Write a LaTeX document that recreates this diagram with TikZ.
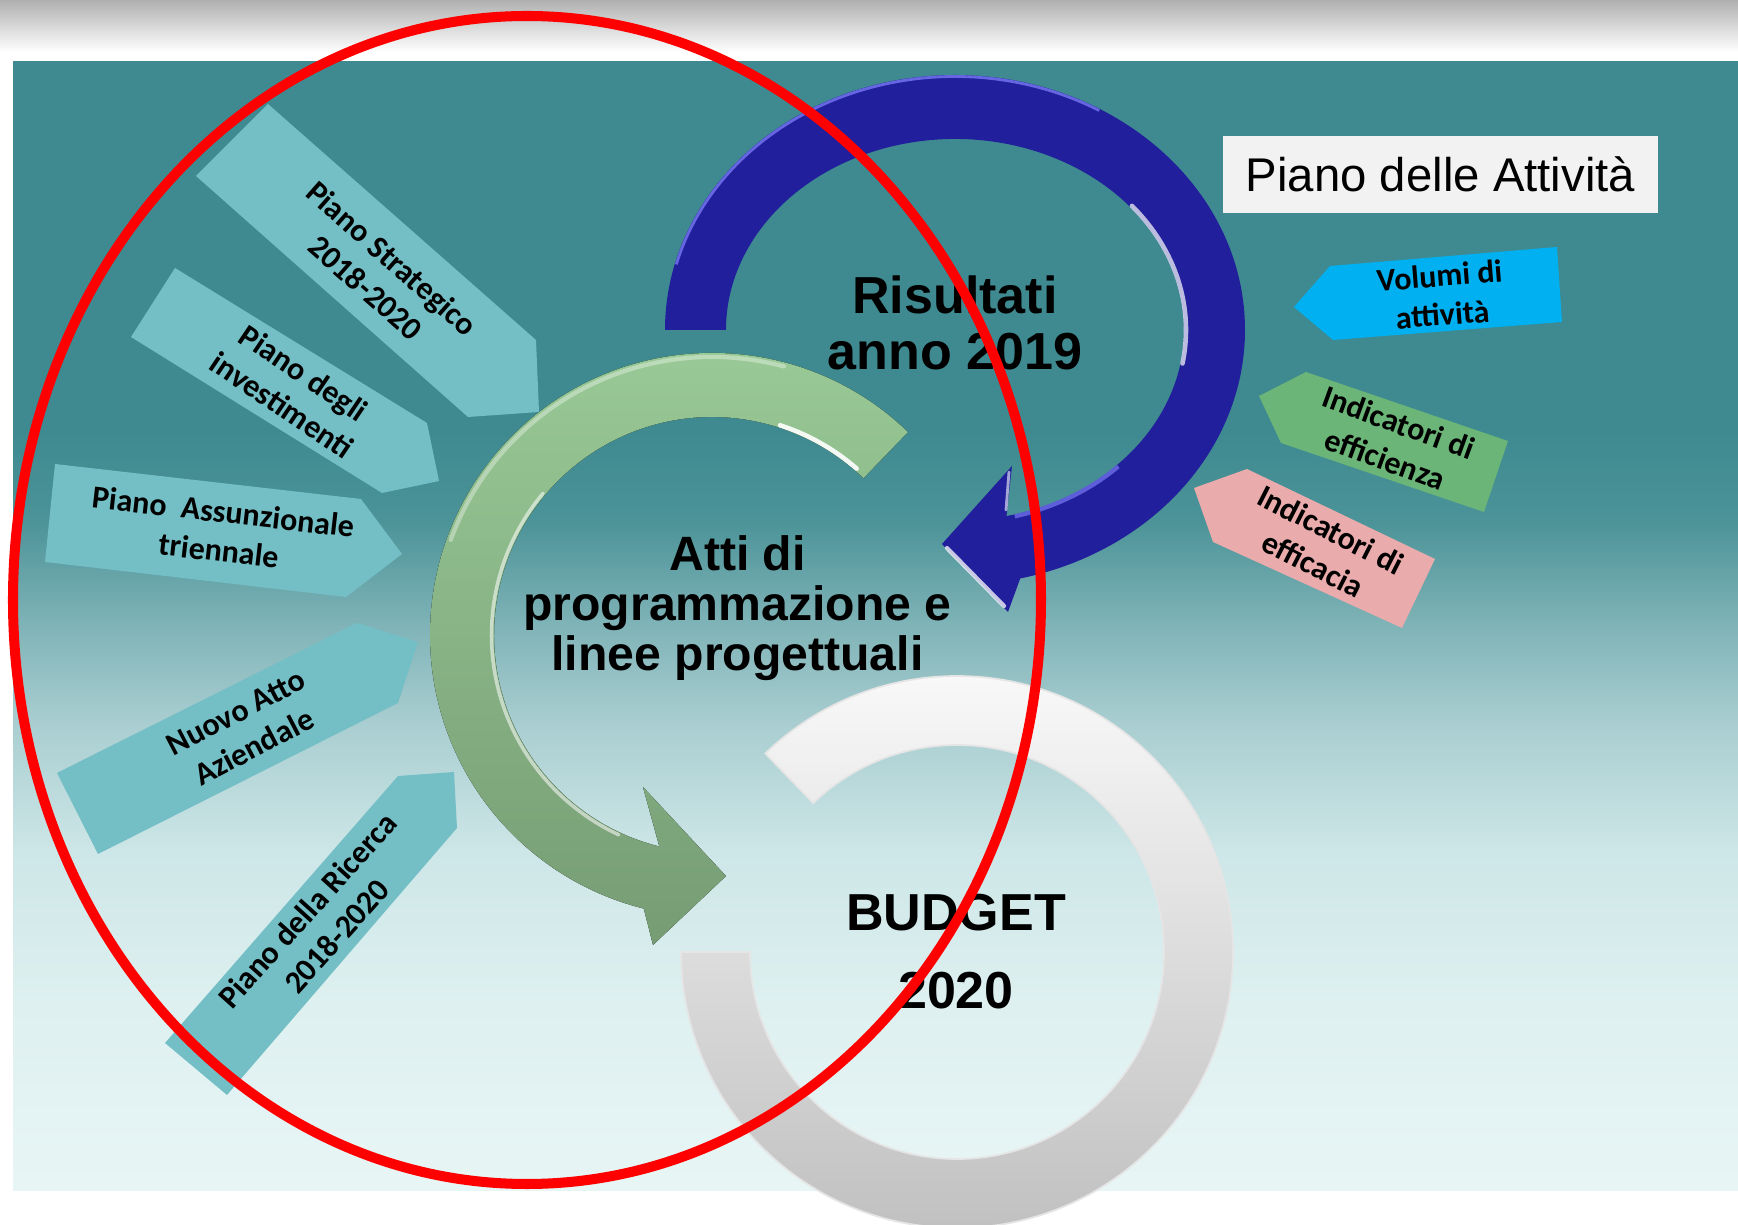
\documentclass[tikz,border=0pt]{standalone}
\usepackage{fontspec}
\setmainfont{Liberation Sans}
\newfontfamily\calib{Carlito}
\definecolor{tealA}{RGB}{62,138,144}
\definecolor{tealB}{RGB}{75,147,152}
\definecolor{tealC}{RGB}{125,178,182}
\definecolor{tealD}{RGB}{168,205,208}
\definecolor{tealE}{RGB}{205,230,231}
\definecolor{tealF}{RGB}{222,240,240}
\definecolor{tealG}{RGB}{232,245,245}
\definecolor{lcyan}{RGB}{116,191,197}
\definecolor{volc}{RGB}{0,176,240}
\definecolor{effc}{RGB}{106,181,119}
\definecolor{efcc}{RGB}{233,171,171}
\definecolor{blueR}{RGB}{33,31,155}
\definecolor{blueL}{RGB}{120,120,245}
\definecolor{greenT}{RGB}{154,203,151}
\definecolor{greenB}{RGB}{118,156,116}
\definecolor{ringT}{RGB}{251,251,251}
\definecolor{ringB}{RGB}{190,190,190}
\definecolor{boxg}{RGB}{242,242,242}
\definecolor{topg}{RGB}{176,176,176}
\tikzset{
  sidearrow/.style={fill=lcyan},
  lbl/.style={font=\calib\bfseries\fontsize{9.1}{11.1}\selectfont, align=center, inner sep=0pt, text=black},
  bigtxt/.style={font=\bfseries\fontsize{14.8}{15.8}\selectfont, align=center, inner sep=0pt, text=black},
  glint/.style={draw=white, line cap=round},
}
\begin{document}
\begin{tikzpicture}[x=0.01cm, y=-0.01cm]
\useasboundingbox (0,0) rectangle (1738,1225);
% background
\fill[white] (0,0) rectangle (1738,1225);
\fill[top color=topg, bottom color=white] (0,0) rectangle (1738,52);
\fill[tealA] (13,61) rectangle (1738,431);
\fill[top color=tealA, bottom color=tealB] (13,430) rectangle (1738,521);
\fill[top color=tealB, bottom color=tealC] (13,520) rectangle (1738,621);
\fill[top color=tealC, bottom color=tealD] (13,620) rectangle (1738,721);
\fill[top color=tealD, bottom color=tealE] (13,720) rectangle (1738,851);
\fill[top color=tealE, bottom color=tealF] (13,850) rectangle (1738,1001);
\fill[top color=tealF, bottom color=tealG] (13,1000) rectangle (1738,1191);

% left arrows
\fill[sidearrow] (268,104) -- (536,340) -- (539,412) -- (468,417) -- (196,176) -- cycle;
\fill[sidearrow] (175,268) -- (427,423) -- (439,481) -- (382,493) -- (131,337) -- cycle;
\fill[sidearrow] (55,464) -- (361,499) -- (402,554) -- (346,597) -- (45,562) -- cycle;
\fill[sidearrow] (57,773) -- (357,623) -- (418,642) -- (398,703) -- (98,854) -- cycle;
\fill[sidearrow] (165,1043) -- (398,776) -- (454,772) -- (457,828) -- (227,1095) -- cycle;

% right arrows
\fill[volc] (1294,307) -- (1330,266) -- (1557,247) -- (1562,322) -- (1333,340) -- cycle;
\fill[effc] (1259,396) -- (1306,372) -- (1508,441) -- (1484,512) -- (1281,443) -- cycle;
\fill[efcc] (1194,488) -- (1247,469) -- (1435,559) -- (1402,628) -- (1213,542) -- cycle;

% green arrow
\fill[top color=greenT, bottom color=greenB]
  (907.9,432.1) arc[start angle=-46, end angle=-256, radius=282]
  -- (653,945) -- (726,876) -- (643,787)
  -- (659.3,846.5) arc[start angle=-256, end angle=-46, radius=218] -- cycle;
\draw[glint, line width=1.3pt, opacity=0.9] (712,635) ++(-49:220.5) arc[start angle=-49, end angle=-72, radius=220.5];
\draw[glint, line width=1pt, opacity=0.55] (712,635) ++(-140:220.5) arc[start angle=-140, end angle=-245, radius=220.5];
\draw[glint, line width=1.2pt, opacity=0.35] (712,635) ++(-75:278) arc[start angle=-75, end angle=-160, radius=278];

% blue arrow
\fill[blueR]
  (665,330) arc[start angle=-180, end angle=77, x radius=290, y radius=255]
  -- (1008,612) -- (942,544) -- (1012,466)
  -- (1006.5,516.1) arc[start angle=77, end angle=-180, x radius=229, y radius=191] -- cycle;
\draw[blueL, line width=0.8pt, opacity=0.8] (955,330) ++(-165:288.5 and 253.5) arc[start angle=-165, end angle=-60, x radius=288.5, y radius=253.5];
\draw[glint, line width=1.3pt, opacity=0.7] (955,330) ++(-40:231 and 193) arc[start angle=-40, end angle=10, x radius=231, y radius=193];
\draw[blueL, line width=1.2pt, opacity=0.7] (955,330) ++(45:231 and 193) arc[start angle=45, end angle=75, x radius=231, y radius=193];
\draw[glint, line width=1.2pt, opacity=0.75] (947,548) -- (1004,606);
\draw[glint, line width=0.8pt, opacity=0.6] (1009,472) -- (1006,510);

% white ring
\fill[top color=ringT, bottom color=ringB]
  (765.3,753.5) arc[start angle=-134, end angle=180, radius=276]
  -- (750,952) arc[start angle=180, end angle=-134, radius=207] -- cycle;
\draw[white!80!gray, line width=0.5pt]
  (765.3,753.5) arc[start angle=-134, end angle=180, radius=276]
  -- (750,952) arc[start angle=180, end angle=-134, radius=207] -- cycle;

% box
\node[fill=boxg, minimum width=4.35cm, minimum height=0.77cm, inner sep=0pt,
      font=\fontsize{13.45}{16}\selectfont] (piano) at (1440.5,174.5) {Piano delle Attività};

% main texts
\node[bigtxt] (ris) at (955,323) {Risultati\\anno 2019};
\node[font=\bfseries\fontsize{13.7}{14.2}\selectfont, align=center, inner sep=0pt] (atti) at (737.5,608) {Atti di\\programmazione e\\linee progettuali};
\node[font=\bfseries\fontsize{14.8}{22.2}\selectfont, align=center, inner sep=0pt] (bud) at (956,952) {BUDGET\\2020};

% small labels
\node[lbl, rotate=4.5] (vol) at (1441,295) {Volumi di\\attività};
\node[lbl, rotate=-20] (eff) at (1392,441) {Indicatori di\\efficienza};
\node[lbl, rotate=-27] (efc) at (1322,547) {Indicatori di\\efficacia};
\node[lbl, rotate=-41.5] (pst) at (379,273) {Piano Strategico\\2018-2020};
\node[lbl, rotate=-34] (pinv) at (293,389) {Piano degli\\investimenti};
\node[lbl, rotate=-6.5] (pass) at (221,531) {Piano\ \ Assunzionale\\triennale};
\node[lbl, rotate=27.5] (nuovo) at (245,730) {Nuovo Atto\\Aziendale};
\node[lbl, rotate=48] (ric) at (322,923) {Piano della Ricerca\\2018-2020};

% red ellipse
\draw[red, line width=2.85pt] (527,600) ellipse[x radius=514, y radius=584];
\end{tikzpicture}
\end{document}
